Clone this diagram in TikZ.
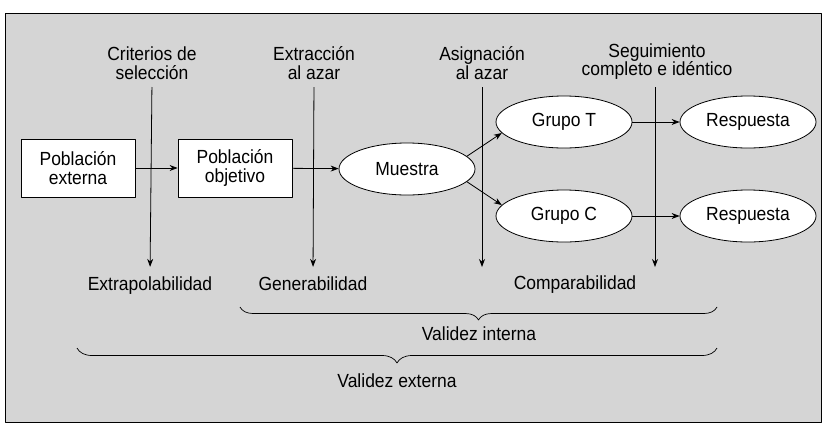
\documentclass[tikz,border=0pt]{standalone}
\usepackage{fontspec}
\setmainfont{Liberation Sans}[FakeStretch=0.92]
\usetikzlibrary{shapes.geometric,arrows.meta,decorations.pathreplacing}
\begin{document}
\begin{tikzpicture}[x=1pt,y=-1pt,line join=round,>={Stealth[length=8pt,width=6pt]},
  font=\fontsize{19}{18.5}\selectfont,line width=0.8pt,
  caja/.style={draw,fill=white,minimum width=114pt,minimum height=58pt,inner sep=0pt,align=center},
  elipse/.style={draw,fill=white,ellipse,minimum width=136pt,minimum height=52pt,inner sep=0pt},
  rotulo/.style={align=center,inner sep=0pt,anchor=south},
  efecto/.style={inner sep=0pt,anchor=base},
  llave/.style={decorate,decoration={brace,mirror,amplitude=#1}}]
\useasboundingbox (0,0) rectangle (829,429);
%% Marco
\draw[fill=gray!33] (5,13) rectangle (821,422);
%% Cajas y elipses
\node[caja] (pext) at (78,168) {Población\\externa};
\node[caja] (pobj) at (235,168) {Población\\objetivo};
\node[elipse] (muestra) at (407,169) {Muestra};
\node[elipse] (grupoT) at (564,122) {Grupo T};
\node[elipse] (grupoC) at (564,216) {Grupo C};
\node[elipse] (respT) at (748,122) {Respuesta};
\node[elipse] (respC) at (748,216) {Respuesta};
%% Rotulos de arriba
\node[rotulo] (crit) at (152,80) {Criterios de\\selección};
\node[rotulo] (extr) at (314,80) {Extracción\\al azar};
\node[rotulo] (asig) at (482,80) {Asignación\\al azar};
\node[rotulo] (segu) at (657,80) {Seguimiento\\completo e idéntico};
%% Rotulos de abajo
\node[efecto] (extrap) at (150,290) {Extrapolabilidad};
\node[efecto] (gener) at (313,290) {Generabilidad};
\node[efecto] (compar) at (575,289) {Comparabilidad};
\coordinate (asigfin) at (482,267);
\coordinate (segufin) at (655,267);
%% Flechas horizontales
\draw[->] (pext) -- (pobj);
\draw[->] (pobj) -- (muestra);
\draw[->] (muestra.12) -- (grupoT.190);
\draw[->] (muestra.-12) -- (grupoC.170);
\draw[->] (grupoT) -- (respT);
\draw[->] (grupoC) -- (respC);
%% Flechas verticales
\draw[->,shorten <=7pt,shorten >=9pt] (crit.south) -- (extrap.north);
\draw[->,shorten <=7pt,shorten >=9pt] (extr.south) -- (gener.north);
\draw[->,shorten <=7pt] (asig.south) -- (asigfin);
\draw[->,shorten <=7pt] (segu.south-|segufin) -- (segufin);
%% Llaves
\draw[llave=13pt,line width=0.7pt] (240,307) -- (717,307);
\node[efecto] (vint) at (479,340) {Validez interna};
\draw[llave=15pt,line width=0.7pt] (77,348) -- (717,348);
\node[efecto] (vext) at (397,387) {Validez externa};
\end{tikzpicture}
\end{document}
